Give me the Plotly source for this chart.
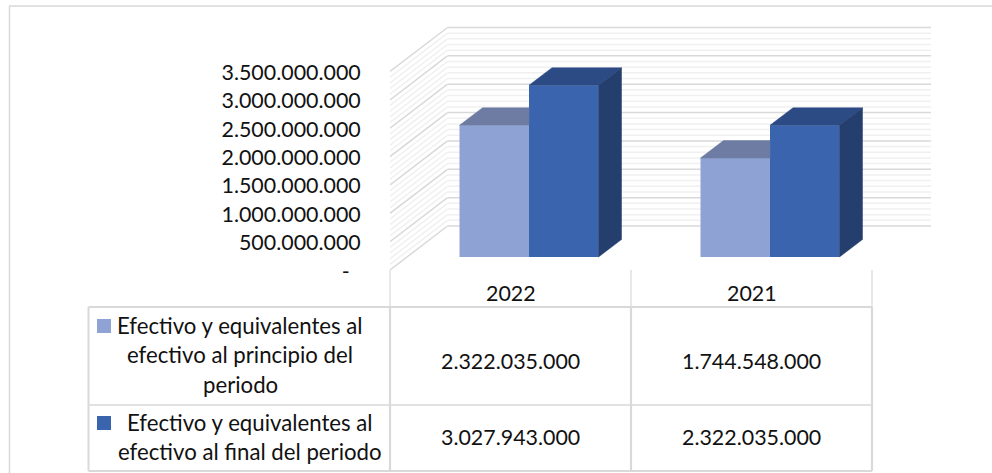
import plotly.graph_objects as go

# ---- data ----
categories = ["2022", "2021"]
inicio = [2322035000, 1744548000]
final = [3027943000, 2322035000]
series_inicio_lines = ["Efectivo y equivalentes al", "efectivo al principio del", "periodo"]
series_final_lines = ["Efectivo y equivalentes al", "efectivo al final del periodo"]
tick_values = [0, 500000000, 1000000000, 1500000000, 2000000000, 2500000000, 3000000000, 3500000000]
tick_labels = ["-\u00a0\u00a0", "500.000.000", "1.000.000.000", "1.500.000.000", "2.000.000.000",
               "2.500.000.000", "3.000.000.000", "3.500.000.000"]

# ---- layout geometry (pixels) ----
W, H = 992, 473
PL, PR = 390, 931      # plot left / right
PT, PB = 20, 270       # plot top / bottom
COL = 241              # pixels per category
UNIT = 500000000 / 28.36   # value per pixel

X0 = -0.5
X1 = X0 + (PR - PL) / COL
Y0 = 0
Y1 = (PB - PT) * UNIT

def xu(px):  # pixels -> category units (length)
    return px / COL

def yu(px):  # pixels -> value units (length)
    return px * UNIT

WALL_DX, WALL_DY = xu(57.5), yu(44)
BASE = yu(13)
BAR_DX, BAR_DY = xu(23), yu(17.5)
BAR_W = xu(69.5)
OFF_A = xu(459.5 - 510.5)
OFF_B = OFF_A + BAR_W

LIGHT, BLUE = "#8FA2D4", "#3A64AD"
LIGHT_TOP, BLUE_TOP, BLUE_SIDE = "#6E7CA3", "#2C4B85", "#243F6E"
MAJOR, MINOR, TABLE = "#D9D9D9", "#F0F0F0", "#D9D9D9"
FONT = "Lato"
FS_NUM = 21.4
FS_TXT = 22.2
TXT = "#111111"

def fmt(v):
    return f"{v:,}".replace(",", ".")

def paper_x(px):
    return (px - PL) / (PR - PL)

def paper_y(px):
    return (PB - px) / (PB - PT)

fig = go.Figure()

# front faces
fig.add_trace(go.Bar(x=list(range(len(categories))), y=inicio, base=BASE, width=BAR_W, offset=OFF_A,
                     marker=dict(color=LIGHT, line=dict(width=0)),
                     name=" ".join(series_inicio_lines)))
fig.add_trace(go.Bar(x=list(range(len(categories))), y=final, base=BASE, width=BAR_W, offset=OFF_B,
                     marker=dict(color=BLUE, line=dict(width=0)),
                     name=" ".join(series_final_lines)))

def poly(xs, ys, color):
    fig.add_trace(go.Scatter(x=xs + xs[:1], y=ys + ys[:1], mode="lines", fill="toself",
                             fillcolor=color, line=dict(color=color, width=0.5),
                             hoverinfo="skip", showlegend=False))

for i in range(len(categories)):
    # top of light bar, hidden where the dark bar stands in front
    t = inicio[i] + BASE
    l = i + OFF_A
    r = i + OFF_B
    poly([l, l + BAR_DX, r, r], [t, t + BAR_DY, t + BAR_DY, t], LIGHT_TOP)
    # top and side of dark bar
    t = final[i] + BASE
    l = i + OFF_B
    r = l + BAR_W
    poly([l, l + BAR_DX, r + BAR_DX, r], [t, t + BAR_DY, t + BAR_DY, t], BLUE_TOP)
    poly([r, r + BAR_DX, r + BAR_DX, r], [BASE, BASE + BAR_DY, t + BAR_DY, t], BLUE_SIDE)

shapes = []

# walls: minor then major lines
step = tick_values[1] - tick_values[0]
levels = []
for v in tick_values:
    levels.append((v, True))
    if v < tick_values[-1]:
        for k in range(1, 5):
            levels.append((v + step * k / 5, False))
for v, major in sorted(levels, key=lambda a: a[1]):
    color = MAJOR if major else MINOR
    w = 1.5
    shapes.append(dict(type="line", xref="x", yref="y", layer="below", x0=X0, y0=v,
                       x1=X0 + WALL_DX, y1=v + WALL_DY, line=dict(color=color, width=w)))
    shapes.append(dict(type="line", xref="x", yref="y", layer="below", x0=X0 + WALL_DX, y0=v + WALL_DY,
                       x1=X1, y1=v + WALL_DY, line=dict(color=color, width=w)))

def pline(x0, y0, x1, y1, width=2.0, color=TABLE):
    shapes.append(dict(type="line", xref="paper", yref="paper", layer="below",
                       x0=paper_x(x0), x1=paper_x(x1), y0=paper_y(y0), y1=paper_y(y1),
                       line=dict(color=color, width=width)))

# image frame
pline(9, 6, 992, 6, 1.5)
pline(9.5, 6, 9.5, 473, 1.5)

# data table
R0, R1, R2, R3 = 307, 405, 471, 270
LEFT = 88.5
for y, w in ((R0, 2), (R1, 1.5), (R2, 2)):
    pline(LEFT, y, PL + COL * len(categories), y, w)
pline(LEFT, R0, LEFT, R2, 2)
for k in range(len(categories) + 1):
    x = PL + COL * k
    pline(x, R3, x, R0, 1.2)
    pline(x, R0, x, R2, 2.2)

# legend keys
for y0, c in ((319, LIGHT), (416, BLUE)):
    shapes.append(dict(type="rect", xref="paper", yref="paper", layer="below",
                       x0=paper_x(97), x1=paper_x(111), y0=paper_y(y0), y1=paper_y(y0 + 14),
                       fillcolor=c, line=dict(width=0)))

annotations = []

def text(x, y, s, size):
    annotations.append(dict(xref="paper", yref="paper", x=paper_x(x), y=paper_y(y), text=s,
                            showarrow=False, xanchor="center", yanchor="middle",
                            font=dict(family=FONT, size=size, color=TXT)))

for k, name in enumerate(categories):
    cx = PL + COL * (k + 0.5)
    text(cx, 293, name, FS_NUM)
    text(cx, 361, fmt(inicio[k]), FS_NUM)
    text(cx, 437, fmt(final[k]), FS_NUM)

for line, y in zip(series_inicio_lines, (325, 354, 384)):
    text(240, y, line, FS_TXT)
for line, y in zip(series_final_lines, (422, 451)):
    text(250, y, line, FS_TXT)

fig.update_layout(
    width=W, height=H, margin=dict(l=PL, r=W - PR, t=PT, b=H - PB, pad=0),
    paper_bgcolor="white", plot_bgcolor="rgba(0,0,0,0)", showlegend=False, barmode="overlay",
    shapes=shapes, annotations=annotations,
    xaxis=dict(range=[X0, X1], showgrid=False, zeroline=False, showticklabels=False, ticks="", showline=False),
    yaxis=dict(range=[Y0, Y1], showgrid=False, zeroline=False, tickmode="array", tickvals=tick_values,
               ticktext=tick_labels, ticks="outside", ticklen=24, tickcolor="rgba(0,0,0,0)", showline=False,
               ticklabelshift=1,
               tickfont=dict(family=FONT, size=FS_NUM, color=TXT)),
)

fig.write_html("out.html", post_script="document.body.style.margin='0';document.body.style.overflow='hidden';",
               config={"displayModeBar": False})
